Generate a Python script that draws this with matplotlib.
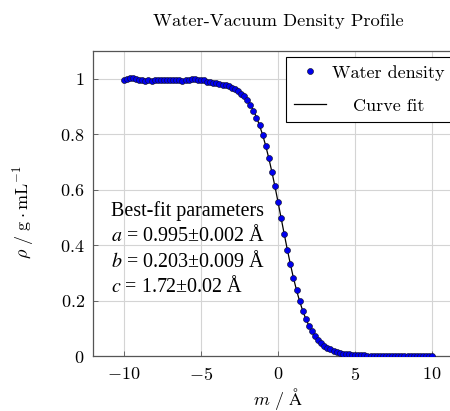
import numpy as np
import matplotlib
matplotlib.use('Agg')
import matplotlib.pyplot as plt
from matplotlib.ticker import FuncFormatter

plt.rcParams['mathtext.fontset'] = 'cm'
plt.rcParams['font.family'] = ['cmr10', 'DejaVu Serif']
plt.rcParams['axes.unicode_minus'] = False

# positions along the surface normal, -10 .. 10 in steps of 0.2
m = np.linspace(-10, 10, 101)

# water density
rho = [
    # -10.0 .. -8.2
    0.997, 0.998, 1.001, 1.002, 0.998, 0.996, 0.995, 0.993, 0.994, 0.992,
    # -8.0 .. -6.2
    0.994, 0.996, 0.995, 0.994, 0.996, 0.997, 0.996, 0.994, 0.995, 0.993,
    # -6.0 .. -4.2
    0.994, 0.996, 0.998, 0.999, 0.997, 0.995, 0.994, 0.990, 0.987, 0.984,
    # -4.0 .. -2.2
    0.983, 0.981, 0.977, 0.976, 0.972, 0.968, 0.963, 0.955, 0.946, 0.936,
    # -2.0 .. -0.2
    0.922, 0.905, 0.885, 0.860, 0.832, 0.798, 0.758, 0.715, 0.664, 0.612,
    # 0.0 .. 1.8
    0.556, 0.499, 0.441, 0.384, 0.331, 0.282, 0.238, 0.198, 0.164, 0.134,
    # 2.0 .. 3.8
    0.110, 0.089, 0.072, 0.058, 0.046, 0.037, 0.030, 0.024, 0.019, 0.015,
    # 4.0 .. 5.8
    0.012, 0.009, 0.008, 0.006, 0.005, 0.004, 0.003, 0.002, 0.002, 0.001,
    # 6.0 .. 7.8
    0.001, 0.001, 0.001, 0.001, 0.000, 0.000, 0.000, 0.000, 0.000, 0.000,
    # 8.0 .. 10.0
    0.000, 0.000, 0.000, 0.000, 0.000, 0.000, 0.000, 0.000, 0.000, 0.000, 0.000,
]

# curve fit, same grid
fit = [
    0.995, 0.995, 0.995, 0.995, 0.995, 0.995, 0.995, 0.995, 0.995, 0.995,
    0.995, 0.995, 0.995, 0.995, 0.995, 0.995, 0.995, 0.995, 0.995, 0.994,
    0.994, 0.994, 0.994, 0.994, 0.993, 0.993, 0.992, 0.991, 0.990, 0.989,
    0.988, 0.986, 0.983, 0.980, 0.976, 0.972, 0.966, 0.958, 0.949, 0.938,
    0.924, 0.907, 0.886, 0.862, 0.832, 0.798, 0.759, 0.714, 0.665, 0.612,
    0.556, 0.498, 0.441, 0.385, 0.332, 0.282, 0.238, 0.198, 0.164, 0.134,
    0.110, 0.089, 0.072, 0.058, 0.046, 0.037, 0.030, 0.024, 0.019, 0.015,
    0.012, 0.009, 0.008, 0.006, 0.005, 0.004, 0.003, 0.002, 0.002, 0.001,
    0.001, 0.001, 0.001, 0.001, 0.000, 0.000, 0.000, 0.000, 0.000, 0.000,
    0.000, 0.000, 0.000, 0.000, 0.000, 0.000, 0.000, 0.000, 0.000, 0.000, 0.000,
]

params = ['Best-fit parameters',
          '$a$ = 0.995±0.002 Å',
          '$b$ = 0.203±0.009 Å',
          '$c$ = 1.72±0.02 Å']

fig = plt.figure(figsize=(4.5, 4.11), dpi=100)
ax = fig.add_axes([93/450, 1-356/411, 370/450, 305/411])

ax.plot(m, fit, color='black', lw=0.9, label='Curve fit', zorder=2)
ax.plot(m, rho, 'o', ms=4.3, mfc='#0000ee', mec='#101030', mew=0.45,
        label='Water density', zorder=3)

ax.set_xlim(-12, 12)
ax.set_ylim(0, 1.1)
ax.set_xticks([-10, -5, 0, 5, 10])
ax.set_yticks([0, 0.2, 0.4, 0.6, 0.8, 1])
fmt = FuncFormatter(lambda v, p: '$%g$' % v)
ax.xaxis.set_major_formatter(fmt)
ax.yaxis.set_major_formatter(fmt)
ax.tick_params(labelsize=13, direction='in', length=3.5, color='#555555', width=0.6)
ax.tick_params(axis='x', pad=7)
ax.tick_params(axis='y', pad=6)
ax.grid(color='#d4d4d4', lw=0.8)
ax.set_axisbelow(True)
for s in ax.spines.values():
    s.set_color('#555555')
    s.set_linewidth(0.9)

ax.set_title('Water-Vacuum Density Profile', fontsize=13.3, pad=18)
ax.set_xlabel(r'$m\ /\ \mathrm{\AA}$', fontsize=13)
ax.set_ylabel(r'$\rho\ /\ \mathrm{g\cdot mL^{-1}}$', fontsize=13)
ax.xaxis.set_label_coords(0.5, -0.098)
ax.yaxis.set_label_coords(-0.155, 0.47)

ax.text(0.048, 0.507, '\n'.join(params), transform=ax.transAxes, va='top', ha='left',
        fontsize=14.4, family='Liberation Serif', math_fontfamily='stix', linespacing=1.26)

h, l = ax.get_legend_handles_labels()
leg = ax.legend(h[::-1], l[::-1], loc='upper left',
                bbox_to_anchor=(0.5216, 0.5, 0.47, 0.481), mode='expand',
                borderaxespad=0, fontsize=13, fancybox=False, framealpha=1,
                edgecolor='black', handlelength=1.75, handletextpad=0.35,
                borderpad=0.45, labelspacing=0.95)
leg.get_frame().set_linewidth(0.8)

# centre the legend labels like pgfplots does
fig.canvas.draw()
texts = leg.get_texts()
widths = [t.get_window_extent().width for t in texts]
wmax = max(widths)
for t, w in zip(texts, widths):
    t.set_x((wmax - w) / 2)

fig.savefig('out.png', dpi=100)
